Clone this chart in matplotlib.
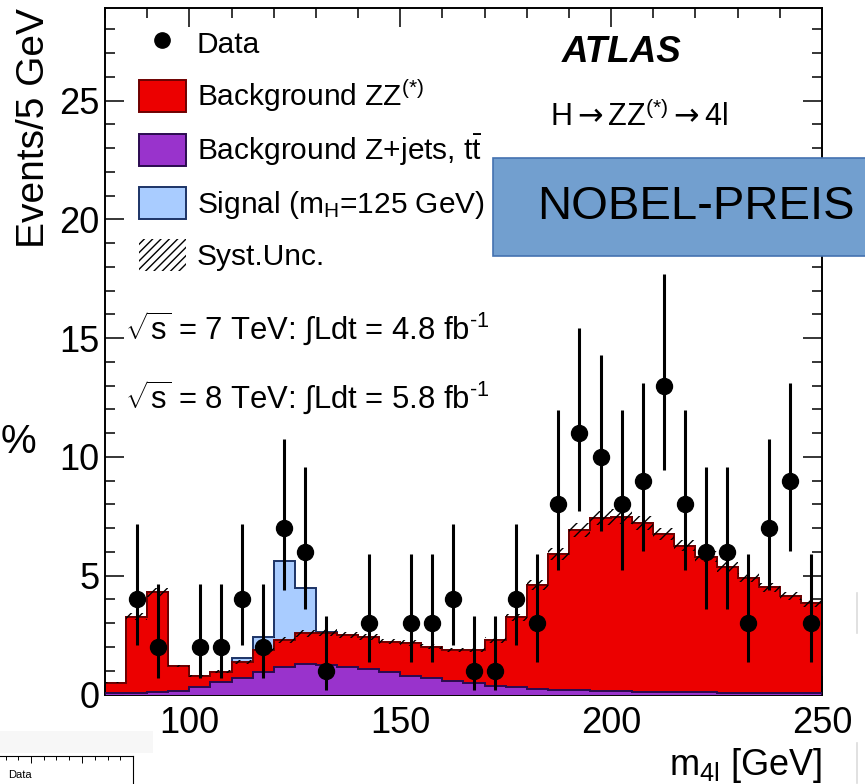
import numpy as np
import matplotlib
matplotlib.use("Agg")
import matplotlib.pyplot as plt
from matplotlib.ticker import MultipleLocator
from matplotlib.patches import Patch, Rectangle
from matplotlib.lines import Line2D

plt.rcParams['font.family'] = ['Liberation Sans', 'DejaVu Sans']
plt.rcParams['mathtext.fontset'] = 'custom'
plt.rcParams['mathtext.rm'] = 'Liberation Sans'
plt.rcParams['mathtext.it'] = 'Liberation Sans:italic'
plt.rcParams['mathtext.bf'] = 'Liberation Sans:bold'
plt.rcParams['mathtext.sf'] = 'DejaVu Sans'
plt.rcParams['mathtext.default'] = 'regular'
plt.rcParams['hatch.color'] = 'black'
plt.rcParams['hatch.linewidth'] = 1.0

# bin edges of m4l (5 GeV bins)
edges = np.arange(80, 255, 5)
centers = edges[:-1] + 2.5

# background Z+jets, ttbar (per bin)
zjets = [0.06, 0.05, 0.10, 0.16, 0.30, 0.51, 0.71, 0.96, 1.17, 1.27,
         1.24, 1.17, 1.07, 0.96, 0.79, 0.68, 0.58, 0.47, 0.37, 0.30,
         0.25, 0.21, 0.18, 0.16, 0.14, 0.12, 0.11, 0.10, 0.09, 0.08,
         0.07, 0.06, 0.05, 0.05]
# background ZZ(*)
zz = [0.44, 3.23, 4.20, 1.04, 0.49, 0.45, 0.65, 0.91, 1.13, 1.31,
      1.36, 1.33, 1.34, 1.27, 1.37, 1.33, 1.29, 1.40, 1.93, 2.95,
      4.36, 5.72, 6.75, 7.26, 7.35, 7.09, 6.65, 6.17, 5.71, 5.28,
      4.85, 4.45, 4.11, 3.79]
# signal mH = 125 GeV
signal = [0, 0, 0, 0, 0, 0, 0.16, 0.57, 3.30, 1.92,
          0.05, 0, 0, 0, 0, 0, 0, 0, 0, 0,
          0, 0, 0, 0, 0, 0, 0, 0, 0, 0,
          0, 0, 0, 0]
# syst. uncertainty on the background (half width)
syst = [0.03, 0.15, 0.20, 0.06, 0.05, 0.06, 0.08, 0.10, 0.12, 0.14,
        0.14, 0.13, 0.13, 0.12, 0.12, 0.11, 0.10, 0.10, 0.12, 0.15,
        0.20, 0.25, 0.28, 0.30, 0.30, 0.29, 0.27, 0.25, 0.23, 0.22,
        0.20, 0.18, 0.17, 0.16]
# observed events
data = [0, 4, 2, 0, 2, 2, 4, 2, 7, 6,
        1, 0, 3, 0, 3, 3, 4, 1, 1, 4,
        3, 8, 11, 10, 8, 9, 13, 8, 6, 6,
        3, 7, 9, 3]
# poisson error bars (down, up) by count
poisson_err = {1: (0.83, 2.30), 2: (1.29, 2.64), 3: (1.63, 2.92),
               4: (1.91, 3.16), 6: (2.38, 3.58), 7: (2.58, 3.77),
               8: (2.77, 3.96), 9: (2.94, 4.13), 10: (3.11, 4.28),
               11: (3.26, 4.44), 13: (3.55, 4.71)}

W, H = 865, 784
def fx(p):
    return p / W
def fy(p):
    return 1 - p / H

fig = plt.figure(figsize=(W / 100, H / 100), dpi=100)
ax = fig.add_axes([fx(105), fy(694.5), (822 - 105) / W, (694.5 - 8) / H])

zjets = np.array(zjets)
zz = np.array(zz)
signal = np.array(signal)
syst = np.array(syst)
data = np.array(data)
bkg = zjets + zz

# stacked histograms
ax.stairs(bkg + signal, edges, fill=True, facecolor='#a9ccff',
          edgecolor='#1c3366', lw=1.4, zorder=1)
ax.stairs(bkg, edges, fill=True, facecolor='#ec0000',
          edgecolor='#6e0000', lw=1.4, zorder=2)
ax.stairs(zjets, edges, fill=True, facecolor='#9933cc',
          edgecolor='#2a0a50', lw=1.4, zorder=3)
# syst band
ax.stairs(bkg + syst, edges, baseline=bkg - syst, fill=True,
          facecolor='none', edgecolor='black', hatch='///', lw=0, zorder=4)

# data
m = data > 0
lo = [poisson_err[n][0] for n in data[m]]
hi = [poisson_err[n][1] for n in data[m]]
ax.errorbar(centers[m], data[m], yerr=[lo, hi], fmt='o', color='black',
            ms=11.5, elinewidth=2.2, capsize=0, zorder=5)

ax.set_xlim(80, 250)
ax.set_ylim(0, 28.9)
ax.xaxis.set_major_locator(MultipleLocator(50))
ax.xaxis.set_minor_locator(MultipleLocator(10))
ax.yaxis.set_major_locator(MultipleLocator(5))
ax.yaxis.set_minor_locator(MultipleLocator(1))
ax.tick_params(which='both', direction='in', top=True, right=True,
               width=1.1, labelsize=26)
ax.tick_params(which='major', length=14)
ax.tick_params(which='minor', length=7)
ax.tick_params(axis='x', pad=8)
ax.tick_params(axis='y', pad=4)
for s in ax.spines.values():
    s.set_linewidth(1.4)

# legend
handles = [
    Line2D([], [], marker='o', ls='none', color='black', ms=11),
    Patch(facecolor='#ec0000', edgecolor='#6e0000', lw=1.4),
    Patch(facecolor='#9933cc', edgecolor='#2a0a50', lw=1.4),
    Patch(facecolor='#a9ccff', edgecolor='#1c3366', lw=1.4),
    Patch(facecolor='white', edgecolor='black', hatch='////', lw=0),
]
labels = ['Data', 'Background ZZ$^{(*)}$', r'Background Z+jets, t$\bar{t}$',
          'Signal (m$_{H}$=125 GeV)', 'Syst.Unc.']
ax.legend(handles, labels, loc='upper left', frameon=False,
          bbox_to_anchor=(fx(139), fy(27)), bbox_transform=fig.transFigure,
          fontsize=21.5, handlelength=1.57, handleheight=1.27,
          handletextpad=0.37, labelspacing=0.62, borderpad=0, borderaxespad=0)

# texts
fig.text(fx(34), fy(8), 'Events/5 GeV', rotation=90, ha='center', va='top',
         fontsize=28)
fig.text(fx(822), fy(775), r'm$_{4l}$ [GeV]', ha='right', va='baseline',
         fontsize=26)
fig.text(fx(622), fy(52), 'ATLAS', ha='center', va='center', fontsize=26.5,
         weight='bold', style='italic')
fig.text(fx(639), fy(117),
         r'$H\mathsf{\rightarrow}ZZ^{(*)}\mathsf{\rightarrow}4l$',
         ha='center', va='center', fontsize=22)
fig.text(fx(125), fy(329),
         '$\\sqrt{s}$ = 7 TeV: $\\int$Ldt = 4.8 fb$^{\u20101}$',
         ha='left', va='center', fontsize=22.3)
fig.text(fx(125), fy(398),
         '$\\sqrt{s}$ = 8 TeV: $\\int$Ldt = 5.8 fb$^{\u20101}$',
         ha='left', va='center', fontsize=22.3)
fig.text(fx(36), fy(442), '%', ha='right', va='center', fontsize=29)

# overlay box
fig.add_artist(Rectangle((fx(493), fy(256)), (880 - 493) / W, 98 / H,
                         transform=fig.transFigure, facecolor='#729fcf',
                         edgecolor='#4472b0', lw=1.2, zorder=10))
fig.text(fx(537), fy(207), 'NOBEL-PREIS', ha='left', va='center',
         fontsize=34, zorder=11)

# faint marks at the right border
for y0, y1 in [(593, 633), (743, 783)]:
    fig.add_artist(Line2D([fx(857), fx(857)], [fy(y0), fy(y1)],
                          color='#dcdcdc', lw=1.2))

# piece of another plot in the bottom-left corner
fig.add_artist(Rectangle((0, fy(753)), fx(153), 22 / H,
                         transform=fig.transFigure, facecolor='#f7f7f7',
                         edgecolor='none', zorder=0))
ax2 = fig.add_axes([-0.2, -0.05, 0.2 + fx(133), 0.05 + (784 - 756) / H])
ax2.set_xlim(0, 60)
ax2.set_ylim(0, 10)
ax2.spines['left'].set_visible(False)
ax2.spines['bottom'].set_visible(False)
ax2.spines['top'].set_linewidth(0.8)
ax2.spines['right'].set_linewidth(0.8)
ax2.xaxis.set_major_locator(MultipleLocator(10))
ax2.xaxis.set_minor_locator(MultipleLocator(2.5))
ax2.yaxis.set_major_locator(MultipleLocator(5))
ax2.tick_params(which='both', direction='in', top=True, right=True,
                bottom=False, left=False, labelbottom=False, labelleft=False,
                width=0.7)
ax2.tick_params(which='major', length=5)
ax2.tick_params(which='minor', length=3)
fig.text(fx(8), fy(775), 'Data', ha='left', va='center', fontsize=8)

fig.savefig('out.png', dpi=100)
